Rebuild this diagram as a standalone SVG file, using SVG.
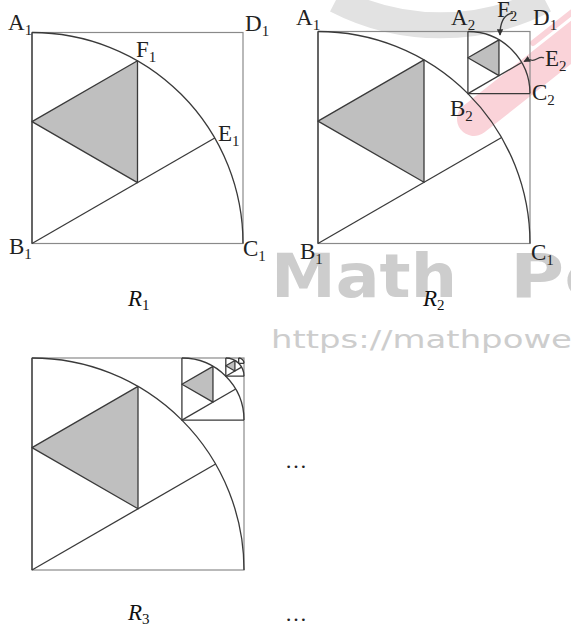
<svg xmlns="http://www.w3.org/2000/svg" width="571" height="630" viewBox="0 0 571 630">
<defs>
<style>
.sq{fill:none;stroke:#8a8a8a;stroke-width:1.2}
.ln{fill:none;stroke:#3a3a3a;stroke-width:1.3}
.tri{fill:#bfbfbf;stroke:#3a3a3a;stroke-width:1.3;stroke-linejoin:round}
.lbl{font-family:"Liberation Serif",serif;font-size:23px;fill:#222}
.sub{font-size:15px}
.rl{font-family:"Liberation Serif",serif;font-size:23px;font-style:italic;fill:#111}
.dots{font-family:"Liberation Serif",serif;font-size:22px;fill:#222}
.wm{font-family:"DejaVu Sans",sans-serif;fill:#cdcdcd}
</style>
<marker id="ah" viewBox="0 0 10 10" refX="9" refY="5" markerWidth="5" markerHeight="5" orient="auto">
<path d="M0,0 L10,5 L0,10 z" fill="#333"/>
</marker>
</defs>
<rect width="571" height="630" fill="#fff"/>
<g id="watermark">
<path d="M336,0 A228,228 0 0 0 545,0" fill="none" stroke="#e2e2e2" stroke-width="26"/>
<line x1="474" y1="119" x2="600" y2="19.5" stroke="#fad3d9" stroke-width="34" stroke-linecap="round"/>
<line x1="533" y1="43" x2="590" y2="-2" stroke="#fad3d9" stroke-width="6" stroke-linecap="round"/>
<text class="wm" x="271" y="297" font-size="60" font-weight="bold" textLength="186" lengthAdjust="spacingAndGlyphs">Math</text>
<text class="wm" x="510" y="297" font-size="60" font-weight="bold" textLength="105" lengthAdjust="spacingAndGlyphs">Po</text>
<text class="wm" x="271" y="348" font-size="25" fill="#d6d6d6" textLength="301" lengthAdjust="spacingAndGlyphs">https://mathpowe</text>
</g>
<g id="R1">
<rect class="sq" x="32" y="32.5" width="211" height="211"/>
<path class="ln" d="M32,32.5 V243.5"/>
<path class="ln" d="M32,32.5 A211,211 0 0 1 243,243.5"/>
<path class="ln" d="M32,243.5 L214.73,138"/>
<polygon class="tri" points="137.5,60.77 32,121.67 137.5,182.58"/>
<text class="lbl" x="8" y="30">A<tspan class="sub" dy="5">1</tspan></text>
<text class="lbl" x="245" y="31">D<tspan class="sub" dy="5">1</tspan></text>
<text class="lbl" x="136" y="57">F<tspan class="sub" dy="5">1</tspan></text>
<text class="lbl" x="218" y="141">E<tspan class="sub" dy="5">1</tspan></text>
<text class="lbl" x="9" y="254">B<tspan class="sub" dy="5">1</tspan></text>
<text class="lbl" x="243" y="256">C<tspan class="sub" dy="5">1</tspan></text>
<text class="rl" x="128" y="306">R<tspan class="sub" dy="4" font-style="normal">1</tspan></text>
</g>
<g id="R2">
<rect class="sq" x="318" y="31.5" width="212" height="212"/>
<path class="ln" d="M318,31.5 V243.5"/>
<path class="ln" d="M318,31.5 A212,212 0 0 1 530,243.5"/>
<path class="ln" d="M318,243.5 L501.6,137.5"/>
<polygon class="tri" points="424,59.91 318,121.09 424,182.3"/>
<g id="R2-sq2">
<path class="ln" d="M467.91,31.5 V93.59 H530"/>
<path class="ln" d="M467.91,31.5 A62.09,62.09 0 0 1 530,93.59"/>
<path class="ln" d="M467.91,93.59 L521.68,62.55"/>
<polygon class="tri" points="498.96,39.82 467.91,57.74 498.96,75.66"/>
</g>
<text class="lbl" x="296" y="25">A<tspan class="sub" dy="5">1</tspan></text>
<text class="lbl" x="451" y="25">A<tspan class="sub" dy="5">2</tspan></text>
<text class="lbl" x="497" y="17">F<tspan class="sub" dy="4">2</tspan></text>
<text class="lbl" x="533" y="25">D<tspan class="sub" dy="5">1</tspan></text>
<text class="lbl" x="545" y="66">E<tspan class="sub" dy="5">2</tspan></text>
<text class="lbl" x="532" y="100">C<tspan class="sub" dy="5">2</tspan></text>
<text class="lbl" x="450" y="116">B<tspan class="sub" dy="5">2</tspan></text>
<text class="lbl" x="300" y="259">B<tspan class="sub" dy="5">1</tspan></text>
<text class="lbl" x="531" y="260">C<tspan class="sub" dy="5">1</tspan></text>
<text class="rl" x="423" y="306">R<tspan class="sub" dy="4" font-style="normal">2</tspan></text>
</g>
<g id="R3">
<rect class="sq" x="32" y="358" width="212" height="212"/>
<path class="ln" d="M32,358 V570"/>
<path class="ln" d="M32,358 A212,212 0 0 1 244,570"/>
<path class="ln" d="M32,570 L215.6,464"/>
<polygon class="tri" points="138,386.41 32,447.59 138,508.8"/>
<g id="R3-sq2">
<path class="ln" d="M181.91,358 V420.09 H244"/>
<path class="ln" d="M181.91,358 A62.09,62.09 0 0 1 244,420.09"/>
<path class="ln" d="M181.91,420.09 L235.68,389.05"/>
<polygon class="tri" points="212.96,366.32 181.91,384.24 212.96,402.16"/>
</g>
<g id="R3-sq3">
<path class="ln" d="M225.81,358 V376.19 H244" stroke-width="1"/>
<path class="ln" d="M225.81,358 A18.19,18.19 0 0 1 244,376.19" stroke-width="1"/>
<path class="ln" d="M225.81,376.19 L241.56,367.09" stroke-width="1"/>
<polygon class="tri" points="234.91,360.44 225.81,365.69 234.91,370.94" stroke-width="1"/>
</g>
<g id="R3-sq4">
<path class="ln" d="M238.67,358 V363.33 H244" stroke-width="0.8"/>
<path class="ln" d="M238.67,358 A5.33,5.33 0 0 1 244,363.33" stroke-width="0.8"/>
</g>
<text class="rl" x="128" y="620">R<tspan class="sub" dy="4" font-style="normal">3</tspan></text>
</g>
<g id="ellipses">
<text class="dots" x="285" y="468">…</text>
<text class="dots" x="285" y="621">…</text>
</g>
<g id="connectors">
<path class="ln" stroke-width="1" d="M513,13 C505,14 500,21 500,35" marker-end="url(#ah)"/>
<path class="ln" stroke-width="1" d="M544,58 C539,55 536,62 531,60 C528,59.5 527,60 524,61.5" marker-end="url(#ah)"/>
</g>
</svg>
